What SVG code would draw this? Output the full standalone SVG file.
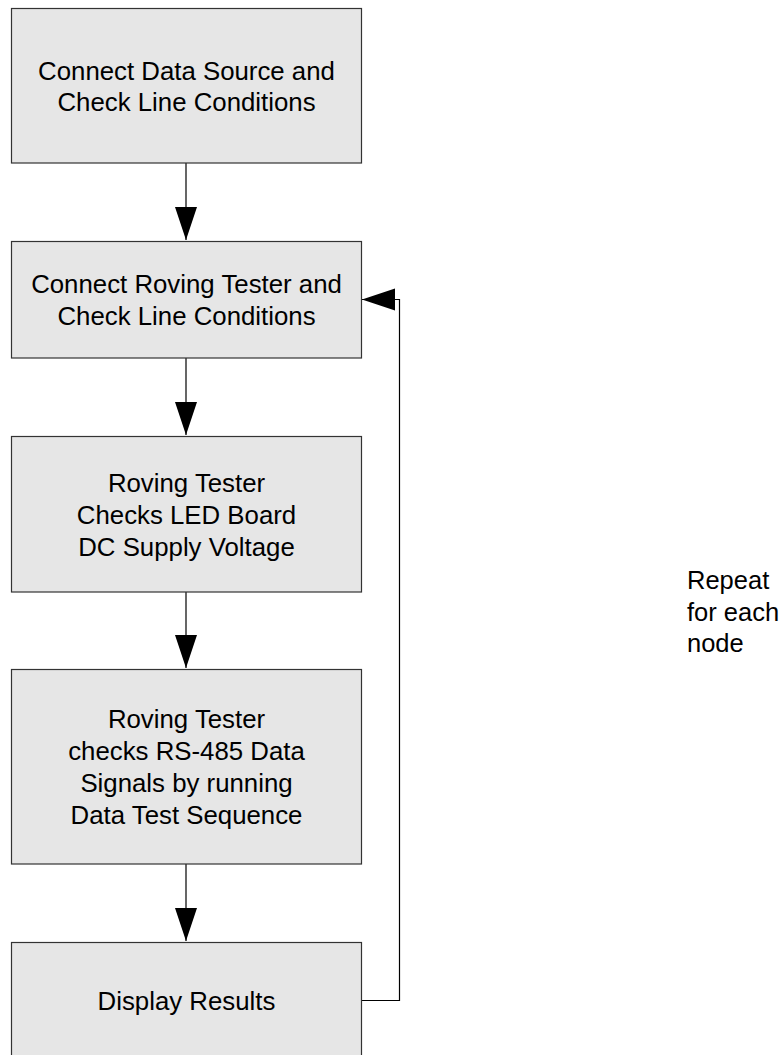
<svg xmlns="http://www.w3.org/2000/svg" width="784" height="1055" viewBox="0 0 784 1055">
<style>
.box{fill:#e6e6e6;stroke:#333;stroke-width:1.2}
.t{font-family:"Liberation Sans",Arial,sans-serif;font-size:25.8px;fill:#000;text-anchor:middle}
.l{font-family:"Liberation Sans",Arial,sans-serif;font-size:25.5px;fill:#000}
.c{fill:none;stroke:#000;stroke-width:1.2}
</style>
<defs>
<marker id="ah" markerUnits="userSpaceOnUse" markerWidth="34" markerHeight="24" refX="33" refY="11" orient="auto">
<path d="M0,0 L33,11 L0,22 z" fill="#000"/>
</marker>
</defs>
<rect width="784" height="1055" fill="#fff"/>
<g id="connectors">
<path class="c" d="M186,163 V240" marker-end="url(#ah)"/>
<path class="c" d="M186,358 V435" marker-end="url(#ah)"/>
<path class="c" d="M186,592 V668" marker-end="url(#ah)"/>
<path class="c" d="M186,864 V941" marker-end="url(#ah)"/>
<path class="c" d="M361.5,1000.5 H399.5 V299.5 H362" marker-end="url(#ah)"/>
</g>
<g id="n1">
<rect class="box" x="11.5" y="8.5" width="350" height="154.5"/>
<text class="t" x="186.5" y="80">Connect Data Source and</text>
<text class="t" x="186.5" y="111">Check Line Conditions</text>
</g>
<g id="n2">
<rect class="box" x="11.5" y="241.5" width="350" height="116.5"/>
<text class="t" x="186.5" y="293">Connect Roving Tester and</text>
<text class="t" x="186.5" y="325">Check Line Conditions</text>
</g>
<g id="n3">
<rect class="box" x="11.5" y="436.5" width="350" height="155.5"/>
<text class="t" x="186.5" y="492">Roving Tester</text>
<text class="t" x="186.5" y="524">Checks LED Board</text>
<text class="t" x="186.5" y="556">DC Supply Voltage</text>
</g>
<g id="n4">
<rect class="box" x="11.5" y="669.5" width="350" height="194.5"/>
<text class="t" x="186.5" y="728">Roving Tester</text>
<text class="t" x="186.5" y="760">checks RS-485 Data</text>
<text class="t" x="186.5" y="792">Signals by running</text>
<text class="t" x="186.5" y="824">Data Test Sequence</text>
</g>
<g id="n5">
<rect class="box" x="11.5" y="942.5" width="350" height="120"/>
<text class="t" x="186.5" y="1010">Display Results</text>
</g>
<g id="label">
<text class="l" x="687" y="589">Repeat</text>
<text class="l" x="687" y="621">for each</text>
<text class="l" x="687" y="652">node</text>
</g>
</svg>
